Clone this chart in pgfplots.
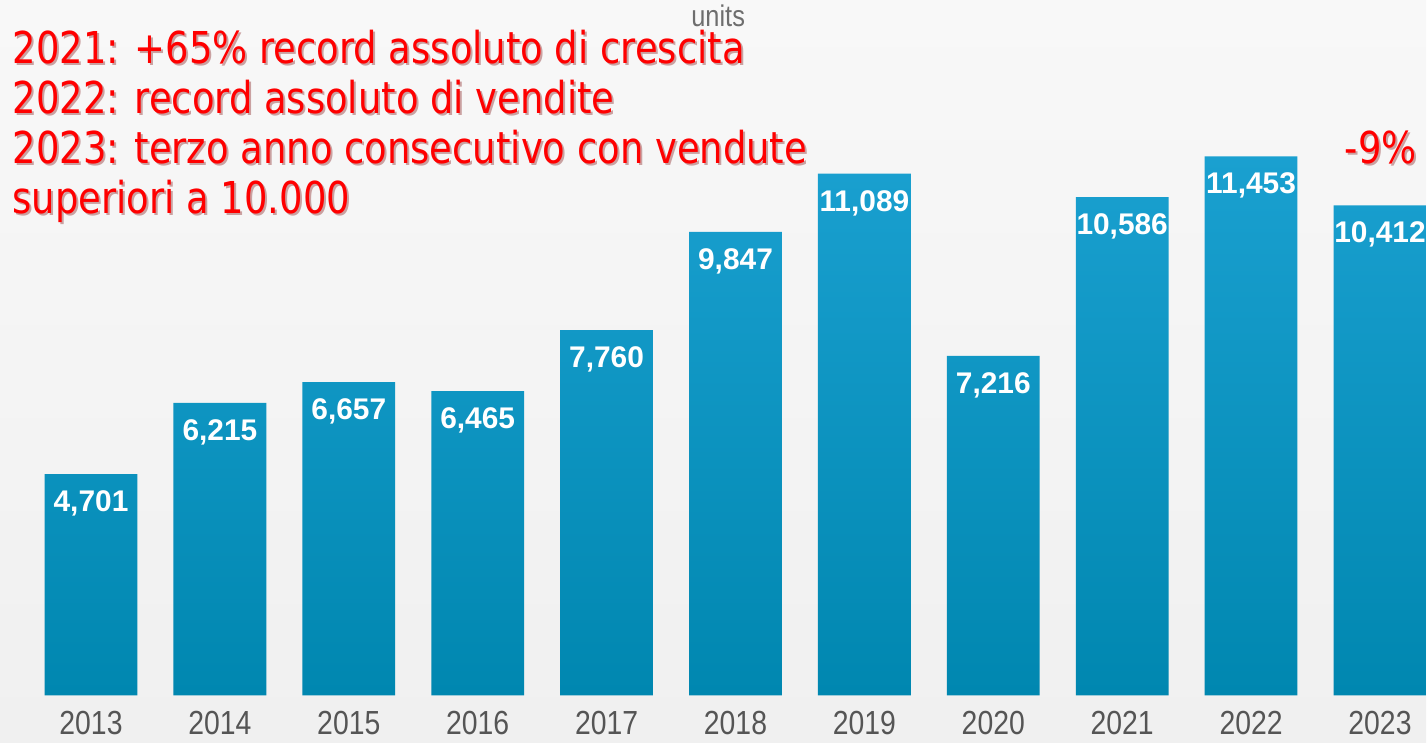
\documentclass[border=0pt]{standalone}
\usepackage{fontspec}
\setmainfont{Liberation Sans}
\newfontfamily\redfont[FakeStretch=0.84]{DejaVu Sans}
\newfontfamily\yearfont[FakeStretch=0.85]{Liberation Sans}
\usepackage{pgfplots}
\pgfplotsset{compat=1.18}
\definecolor{BarTop}{HTML}{1AA0D0}
\definecolor{BarBot}{HTML}{0087B0}
\definecolor{YearGray}{HTML}{555555}
\definecolor{HiRed}{HTML}{FF0000}
\definecolor{ShadowRed}{HTML}{7A1515}
\definecolor{BgTop}{HTML}{F8F8F8}
\definecolor{BgMid}{HTML}{DCDCDC}
\definecolor{BgBot}{HTML}{F0F0F0}

\begin{document}
\begin{tikzpicture}[x=0.01cm,y=0.01cm]
% background, 1 unit = 1 px of the reference
\shade[top color=BgTop, middle color=BgMid, bottom color=BgBot] (0,0) rectangle (1427,742);
\begin{axis}[
    at={(0,0)}, anchor=south west,
    width=14.27cm, height=7.42cm, scale only axis,
    xmin=-0.706, xmax=10.365,
    ymin=-1000, ymax=14770,
    axis line style={draw=none},
    major tick length=0pt,
    ytick=\empty,
    xtick={0,...,10},
    xticklabels={2013,2014,2015,2016,2017,2018,2019,2020,2021,2022,2023},
    xticklabel style={anchor=base, inner sep=0pt, yshift=0.08cm,
        font=\yearfont\fontsize{9.5}{9.5}\selectfont, text=YearGray},
]
\addplot[ybar, bar width=0.72, draw=none,
    top color=BarTop, bottom color=BarBot,
    nodes near coords={\pgfmathprintnumber[fixed,1000 sep={,},assume math mode=true]{\pgfplotspointmeta}},
    nodes near coords style={anchor=north, inner sep=0pt, yshift=-0.16cm,
        text=white, font=\bfseries\fontsize{8.5}{8.5}\selectfont}]
coordinates {(0,4701) (1,6215) (2,6657) (3,6465) (4,7760) (5,9847)
             (6,11089) (7,7216) (8,10586) (9,11453) (10,10412)};
\end{axis}

\node[anchor=base west, inner sep=0pt, text=YearGray!85,
      font=\yearfont\fontsize{8.5}{8.5}\selectfont] at (691,716) {units};

\foreach \dx/\dy/\col in {2/-2/ShadowRed!40, 0/0/HiRed} {
  \begin{scope}[shift={(\dx,\dy)}, every node/.style={anchor=base west, inner sep=0pt,
        text=\col, font=\redfont\fontsize{12.5}{12.5}\selectfont}]
  \node at (12,679) {2021: +65\% record assoluto di crescita};
  \node at (12,629) {2022: record assoluto di vendite};
  \node at (12,579) {2023: terzo anno consecutivo con vendute};
  \node at (12,529) {superiori a 10.000};
  \node at (1345,579) {-9\%};
  \end{scope}
}
\end{tikzpicture}
\end{document}
